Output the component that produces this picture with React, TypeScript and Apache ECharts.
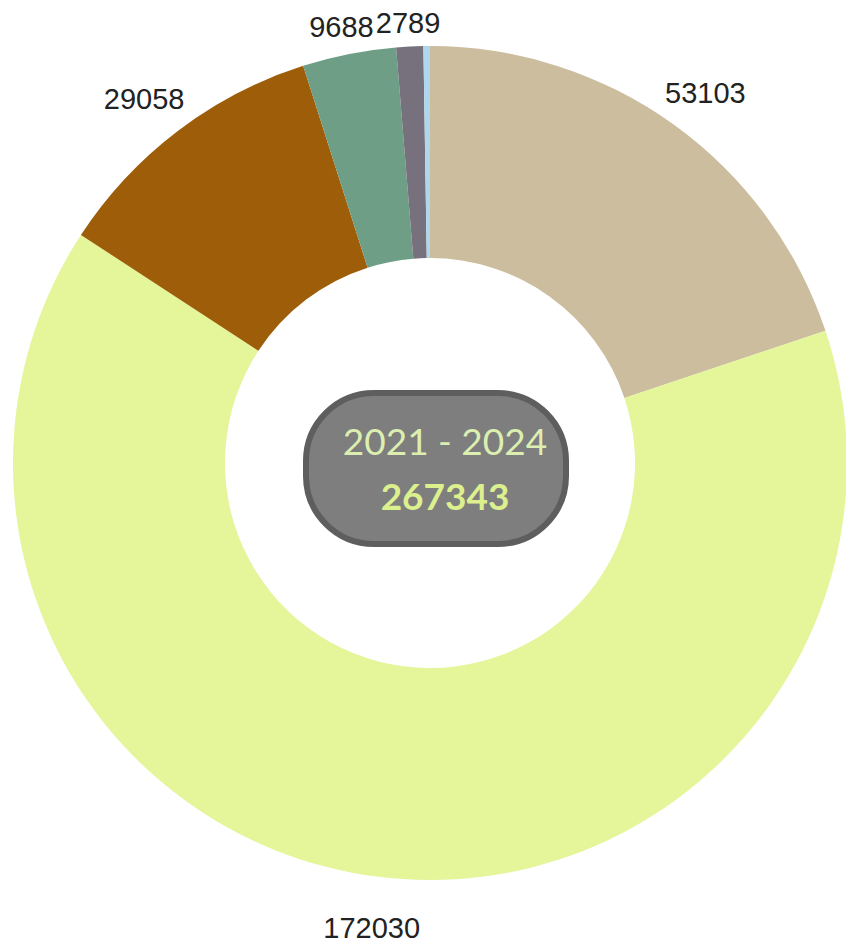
import React, { useEffect, useRef } from "react";
import * as echarts from "echarts";

const categories = ["A", "B", "C", "D", "E", "F"];
const values = [53103, 172030, 29058, 9688, 2789, 675];
const colors = ["#cbbd9d", "#e4f59a", "#9e5e09", "#6f9e87", "#77707d", "#aed6ec"];
const hiddenLabelIndex = [5];
const periodLabel = "2021 - 2024";
const totalLabel = "267343";

const LABEL_CX = 430;
const LABEL_CY = 475;
const LABEL_R = 436;

export default function App() {
  const ref = useRef<HTMLDivElement>(null);
  useEffect(() => {
    if (!ref.current) return;
    const chart = echarts.init(ref.current, null, { renderer: "svg" });
    const data = categories.map((name, i) => ({
      name,
      value: values[i],
      itemStyle: { color: colors[i] },
    }));
    const labelData = categories.map((name, i) => ({
      name,
      value: values[i],
      label: { show: hiddenLabelIndex.indexOf(i) < 0 },
    }));
    chart.setOption({
      animation: false,
      backgroundColor: "#ffffff",
      series: [
        {
          type: "pie",
          center: [430, 463],
          radius: [205, 417],
          startAngle: 90,
          clockwise: true,
          silent: true,
          label: { show: false },
          labelLine: { show: false },
          data,
        },
        {
          type: "pie",
          center: [LABEL_CX, LABEL_CY],
          radius: [LABEL_R, LABEL_R],
          startAngle: 90,
          clockwise: true,
          silent: true,
          itemStyle: { color: "rgba(0,0,0,0)" },
          label: {
            show: true,
            position: "inside",
            formatter: "{c}",
            color: "#222222",
            fontSize: 29,
            fontFamily: "Liberation Sans, Arial, sans-serif",
          },
          labelLine: { show: false },
          labelLayout: (params: any) => {
            const r = params.labelRect;
            if (!r) return {};
            const mx = r.x + r.width / 2;
            const my = r.y + r.height / 2;
            const vx = mx - LABEL_CX;
            const vy = my - LABEL_CY;
            const d = Math.sqrt(vx * vx + vy * vy) || 1;
            const ux = vx / d;
            const uy = vy / d;
            const ext = Math.abs(ux) * r.width / 2 + Math.abs(uy) * r.height / 2;
            const rr = LABEL_R + ext;
            return { x: LABEL_CX + ux * rr, y: LABEL_CY + uy * rr };
          },
          data: labelData,
        },
      ],
      graphic: [
        {
          type: "rect",
          shape: { x: 306, y: 393, width: 260, height: 151, r: 68 },
          style: { fill: "#7e7e7e", stroke: "#5e5e5e", lineWidth: 6 },
          z: 10,
        },
        {
          type: "text",
          x: 445,
          y: 440,
          style: {
            text: periodLabel,
            fill: "#dcefb0",
            font: "normal 37px Lato, 'Open Sans', sans-serif",
            textAlign: "center",
            textVerticalAlign: "middle",
          },
          z: 11,
        },
        {
          type: "text",
          x: 445,
          y: 495,
          style: {
            text: totalLabel,
            fill: "#dcf08e",
            font: "bold 37px Lato, 'Open Sans', sans-serif",
            textAlign: "center",
            textVerticalAlign: "middle",
          },
          z: 11,
        },
      ],
    });
    return () => chart.dispose();
  }, []);
  return (
    <div
      ref={ref}
      style={{ position: "absolute", left: 0, top: 0, width: 846, height: 943 }}
    />
  );
}
